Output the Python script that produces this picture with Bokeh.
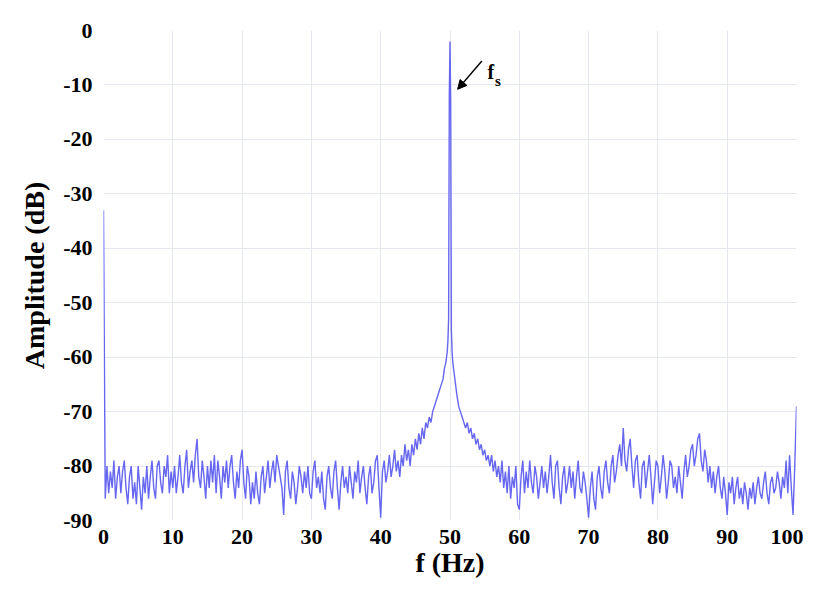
from bokeh.plotting import figure
from bokeh.models import Range1d, FixedTicker, Arrow, NormalHead, Label
from bokeh.embed import file_html
from bokeh.resources import INLINE

# --- data ---
# 0 .. 48.75 Hz, step 0.25 Hz
amp_low = [-33,
           -86, -80, -85, -81, -84, -79, -86, -82, -80, -85, -81, -79, -84, -87, -82, -80,
           -86, -83, -87, -80, -84, -88, -82, -85, -80, -86, -82, -79, -84, -86, -80, -79,
           -83, -85, -80, -82, -78, -85, -81, -84, -80, -85, -82, -78, -83, -85, -80, -77,
           -84, -81, -79, -83, -78, -75, -82, -84, -79, -82, -86, -80, -84, -79, -83, -78,
           -85, -79, -82, -86, -80, -83, -79, -84, -80, -78, -83, -86, -81, -84, -79, -77,
           -83, -86, -80, -82, -87, -83, -86, -81, -85, -87, -82, -80, -85, -82, -79, -84,
           -81, -79, -83, -78, -80, -82, -84, -89, -81, -79, -84, -86, -81, -83, -87, -84,
           -80, -82, -85, -81, -84, -80, -85, -86, -81, -79, -84, -82, -85, -81, -86, -88,
           -82, -80, -84, -86, -81, -79, -84, -88, -83, -80, -84, -82, -85, -80, -83, -86,
           -81, -83, -79, -85, -82, -80, -84, -87, -82, -80, -85, -83, -79, -78, -84, -89.5,
           -81, -79, -83, -81, -78, -82, -80, -77, -81, -79, -82, -78, -80, -76, -79, -77,
           -80, -76, -78, -75, -77, -74, -76, -73, -75, -72, -73, -71, -72, -70, -69, -68,
           -67, -66, -65]
# fine resolution around the 50 Hz component
freq_peak = [49.0, 49.2, 49.4, 49.6, 49.7, 49.8, 49.9, 50.0, 50.1, 50.2,
             50.3, 50.4, 50.6, 50.8, 51.0]
amp_peak = [-64, -62, -61, -59, -57, -53, -12, -2, -13, -55,
            -59, -61, -63, -65, -67]
# 51.25 .. 100 Hz, step 0.25 Hz
amp_high = [-69, -70, -71, -72, -73, -72, -74, -73, -75, -74, -76, -75, -77, -76, -78,
            -77, -79, -78, -80, -78, -81, -79, -82, -80, -83, -79, -84, -81, -85, -80,
            -86, -82, -84, -80, -87, -88, -82, -79, -85, -81, -84, -79, -83, -85, -80,
            -82, -86, -83, -80, -84, -81, -85, -82, -78, -83, -86, -80, -79, -84, -87,
            -82, -80, -85, -83, -80, -84, -81, -86, -82, -79, -84, -85, -81, -83, -86,
            -89.5, -84, -81, -86, -88, -82, -80, -84, -86, -81, -79, -83, -85, -80, -78,
            -83, -81, -78, -76, -80, -73, -79, -81, -77, -75, -80, -84, -79, -78, -83,
            -86, -80, -79, -84, -81, -78, -82, -87, -83, -79, -80, -85, -82, -78, -81,
            -86, -83, -79, -80, -84, -82, -85, -80, -83, -86, -81, -78, -82, -80, -77,
            -76, -80, -78, -75, -74, -79, -81, -77, -79, -83, -80, -84, -81, -85, -82,
            -80, -84, -86, -82, -85, -89, -83, -85, -82, -87, -84, -82, -86, -84, -87,
            -83, -85, -88, -84, -86, -83, -87, -84, -82, -85, -86, -83, -81, -85, -87,
            -83, -82, -85, -84, -81, -83, -86, -82, -84, -79, -85, -78, -84, -89, -80,
            -69]

freq_low = [0.25 * i for i in range(len(amp_low))]
freq_high = [100 - 0.25 * (len(amp_high) - 1 - i) for i in range(len(amp_high))]
freq = freq_low + freq_peak + freq_high
amp = amp_low + amp_peak + amp_high

x_ticks = [0, 10, 20, 30, 40, 50, 60, 70, 80, 90, 100]
y_ticks = [0, -10, -20, -30, -40, -50, -60, -70, -80, -90]

FONT = "Liberation Serif"

p = figure(width=803, height=580, output_backend="svg", toolbar_location=None,
           x_range=Range1d(0, 100), y_range=Range1d(-90, 0),
           min_border_left=103, min_border_right=7, min_border_top=30,
           min_border_bottom=57)
p.outline_line_color = None
p.background_fill_color = "white"

p.line(freq, amp, line_color="#6666f0", line_width=1.4)

for ax in (p.xaxis[0], p.yaxis[0]):
    ax.axis_line_color = None
    ax.major_tick_line_color = None
    ax.minor_tick_line_color = None
    ax.major_label_text_font = FONT
    ax.major_label_text_font_style = "bold"
    ax.major_label_text_font_size = "22px"
    ax.major_label_text_color = "black"
    ax.axis_label_text_font = FONT
    ax.axis_label_text_font_style = "bold"
    ax.axis_label_text_font_size = "28px"
    ax.axis_label_text_color = "black"

p.xaxis.ticker = FixedTicker(ticks=x_ticks)
p.yaxis.ticker = FixedTicker(ticks=y_ticks)
p.yaxis.major_label_overrides = {t: str(t) for t in y_ticks}
p.xaxis.major_label_standoff = 3
p.yaxis.major_label_standoff = 5
p.xaxis.axis_label = "f (Hz)"
p.yaxis.axis_label = "Amplitude (dB)"
p.xaxis.axis_label_standoff = 0
p.yaxis.axis_label_standoff = 10

p.xgrid.ticker = FixedTicker(ticks=x_ticks)
p.ygrid.ticker = FixedTicker(ticks=y_ticks)
p.grid.grid_line_color = "#e4e8ee"
p.grid.grid_line_width = 1

# annotation f_s with arrow
p.add_layout(Arrow(end=NormalHead(size=9, fill_color="black", line_color="black"),
                   x_start=54.6, y_start=-5.6, x_end=51.1, y_end=-10.8,
                   line_color="black", line_width=1.4))
p.add_layout(Label(x=55.4, y=-9.6, text="f", text_font=FONT, text_font_style="bold",
                   text_font_size="20px", text_color="black"))
p.add_layout(Label(x=56.5, y=-10.8, text="s", text_font=FONT, text_font_style="bold",
                   text_font_size="15px", text_color="black"))

open("out.html", "w").write(file_html(p, INLINE))
